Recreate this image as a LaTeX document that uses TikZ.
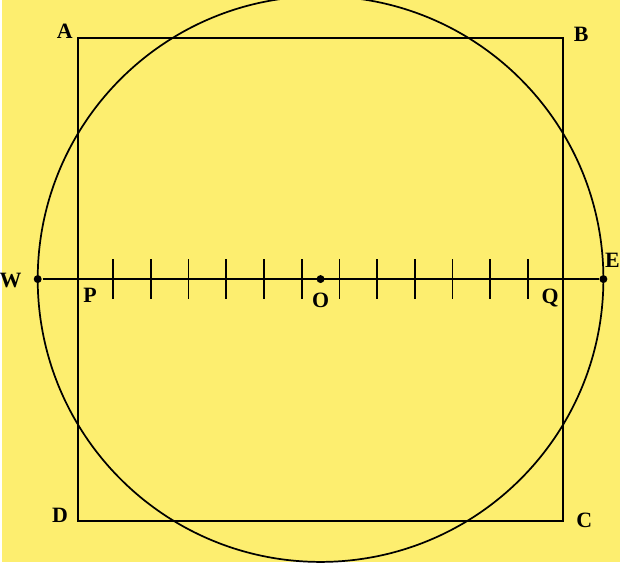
\documentclass[tikz,border=0pt]{standalone}
\usepackage{fontspec}
\setmainfont{Liberation Serif}
\definecolor{paper}{RGB}{253,238,111}
\tikzset{
  lbl/.style={font=\fontsize{16.5}{19}\selectfont\bfseries, inner sep=0pt},
  dot/.style={circle, fill=black, inner sep=0pt, minimum size=6pt}
}
\begin{document}
\begin{tikzpicture}[line width=1.3pt]
			% Background
			\useasboundingbox (-8.50,-7.64) rectangle (7.94,7.40);
			\fill[paper] (-8.45,-7.51) rectangle (7.94,7.40);

			% Points
			\coordinate (O) at (0,0);
			\coordinate (A) at (-6.43,6.39);
			\coordinate (B) at (6.43,6.39);
			\coordinate (C) at (6.43,-6.41);
			\coordinate (D) at (-6.43,-6.41);
			\coordinate (P) at (-6.43,0);
			\coordinate (Q) at (6.43,0);

			% Draw circle and square
			\draw (O) circle (7.5);
			\draw (A) -- (B) -- (C) -- (D) -- cycle;

			% Draw diameter with ticks
			\node[dot] (W) at (-7.5,0) {};
			\node[dot] (E) at (7.5,0) {};
			\node[dot] (o) at (O) {};
			\draw (W) -- (E);
			\foreach \i in {0.5,1.5,...,5.5} {
				\draw (\i,-0.52) -- (\i,0.52);
				\draw (-\i,-0.52) -- (-\i,0.52);
			}

			% Labels
			\node[lbl] at (-6.78,6.58) {A};
			\node[lbl] at (6.91,6.50) {B};
			\node[lbl] at (6.99,-6.39) {C};
			\node[lbl] at (-6.91,-6.26) {D};
			\node[lbl] at (-8.22,-0.05) {W};
			\node[lbl] at (7.74,0.50) {E};
			\node[lbl] at (-6.11,-0.42) {P};
			\node[lbl] at (0,-0.56) {O};
			\node[lbl] at (6.09,-0.50) {Q};
		\end{tikzpicture}
\end{document}
